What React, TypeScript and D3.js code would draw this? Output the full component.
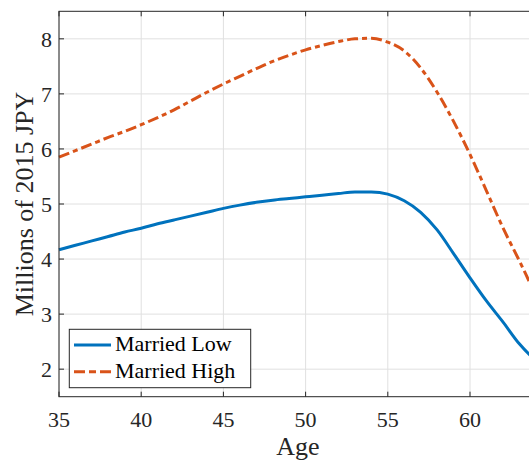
import * as d3 from "d3";
import React from "react";

// ages 35..65
const ages = d3.range(35, 66);
const marriedLow = [
  4.17, 4.25, 4.33, 4.41, 4.49, 4.56, 4.64, 4.71, 4.78, 4.85,
  4.92, 4.98, 5.03, 5.07, 5.10, 5.13, 5.16, 5.19, 5.22, 5.22,
  5.18, 5.06, 4.85, 4.53, 4.10, 3.66, 3.24, 2.86, 2.46, 2.16, 1.95,
];
const marriedHigh = [
  5.85, 5.97, 6.09, 6.21, 6.32, 6.44, 6.57, 6.71, 6.87, 7.03,
  7.18, 7.32, 7.46, 7.59, 7.70, 7.80, 7.88, 7.95, 8.00, 8.01,
  7.94, 7.78, 7.47, 7.03, 6.50, 5.90, 5.24, 4.57, 3.97, 3.35, 2.80,
];
const xTicks = [35, 40, 45, 50, 55, 60, 65];
const yTicks = [2, 3, 4, 5, 6, 7, 8];
const seriesNames = ["Married Low", "Married High"];

const W = 529, H = 461;
const left = 59, top = 11.3, bottom = 396.7, right = 552.2;
const font = "Liberation Serif";
const axisColor = "#262626";
const gridColor = "#e0e0e0";
const blue = "#0072BD", orange = "#D95319";

const x = d3.scaleLinear().domain([35, 65]).range([left, right]);
const y = d3.scaleLinear().domain([1.5, 8.5]).range([bottom, top]);

export default function App() {
  const line = d3.line<number>()
    .x((_v, i) => x(ages[i]))
    .y((v) => y(v))
    .curve(d3.curveMonotoneX);
  const tickLen = 5;

  return (
    <svg width={W} height={H} style={{ position: "absolute", left: 0, top: 0 }}>
      <rect width={W} height={H} fill="#fff" />
      {/* grid */}
      {xTicks.map((t) => (
        <line key={"gx" + t} x1={x(t)} x2={x(t)} y1={top} y2={bottom} stroke={gridColor} strokeWidth={1} />
      ))}
      {yTicks.map((t) => (
        <line key={"gy" + t} x1={left} x2={right} y1={y(t)} y2={y(t)} stroke={gridColor} strokeWidth={1} />
      ))}

      {/* series */}
      <path d={line(marriedLow) || ""} fill="none" stroke={blue} strokeWidth={3} strokeLinejoin="round" />
      <path d={line(marriedHigh) || ""} fill="none" stroke={orange} strokeWidth={3} strokeDasharray="11,4,5,4" />

      {/* axes box */}
      <rect x={left} y={top} width={right - left} height={bottom - top} fill="none" stroke={axisColor} strokeWidth={1} />
      {xTicks.map((t) => (
        <g key={"tx" + t}>
          <line x1={x(t)} x2={x(t)} y1={bottom} y2={bottom - tickLen} stroke={axisColor} />
          <line x1={x(t)} x2={x(t)} y1={top} y2={top + tickLen} stroke={axisColor} />
          {x(t) < W - 10 && (
            <text x={x(t)} y={426.5} textAnchor="middle" fontFamily={font} fontSize={22} fill={axisColor}>{t}</text>
          )}
        </g>
      ))}
      {yTicks.map((t) => (
        <g key={"ty" + t}>
          <line x1={left} x2={left + tickLen} y1={y(t)} y2={y(t)} stroke={axisColor} />
          <text x={52} y={y(t)} dy="0.35em" textAnchor="end" fontFamily={font} fontSize={22} fill={axisColor}>{t}</text>
        </g>
      ))}

      {/* axis labels */}
      <text x={298} y={455} textAnchor="middle" fontFamily={font} fontSize={26} fill={axisColor}>Age</text>
      <text transform={`translate(24,${(top + bottom) / 2}) rotate(-90)`} dy="0.35em" textAnchor="middle" fontFamily={font} fontSize={26} fill={axisColor}>
        Millions of 2015 JPY
      </text>

      {/* legend */}
      <rect x={69.3} y={329.3} width={181.4} height={58.4} fill="#fff" stroke={axisColor} strokeWidth={1} />
      {seriesNames.map((name, i) => {
        const ly = 345 + i * 26.7;
        return (
          <g key={name}>
            <line x1={74} x2={111} y1={ly} y2={ly} stroke={i === 0 ? blue : orange} strokeWidth={3}
              strokeDasharray={i === 0 ? undefined : "11,4,7,4"} />
            <text x={115} y={ly + 6} fontFamily={font} fontSize={22} fill="#000">{name}</text>
          </g>
        );
      })}
    </svg>
  );
}
